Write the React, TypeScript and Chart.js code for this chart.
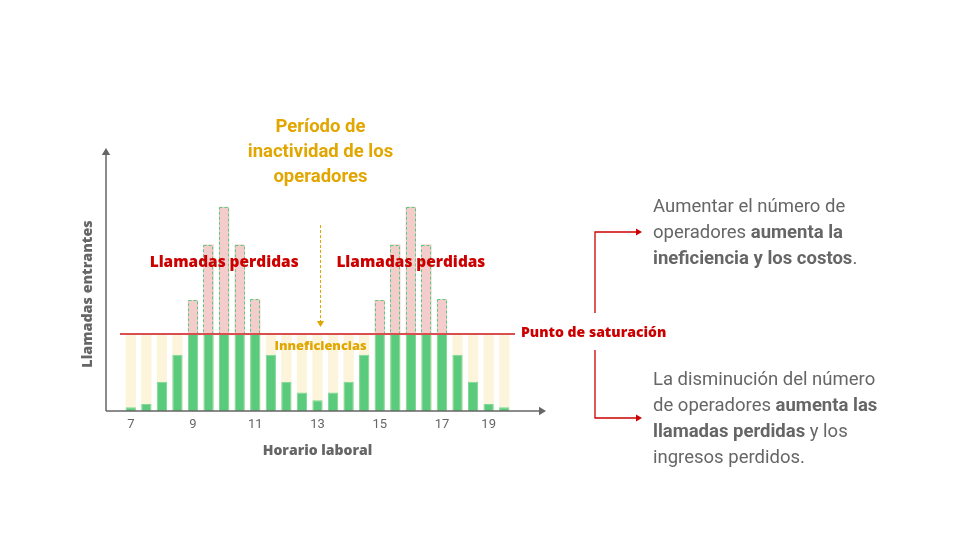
import { useEffect, useRef } from 'react';
import { Chart, registerables } from 'chart.js';
import type { Plugin } from 'chart.js';

Chart.register(...registerables);

// half-hour slots from 7:00 to 19:00, only some hours are labelled
const horas = ['7', '', '', '', '9', '', '', '', '11', '', '', '', '13', '', '', '', '15', '', '', '', '17', '', '', '19', ''];

// 100 = punto de saturación (capacidad de los operadores)
const capacidad = 100;
const capacidadSerie = horas.map(() => capacidad);
const atendidas = [5, 9, 38, 73, 100, 100, 100, 100, 100, 73, 38, 24, 14, 24, 38, 73, 100, 100, 100, 100, 100, 73, 38, 9, 5];
const perdidasTope = [null, null, null, null, 144, 216, 265, 216, 145, null, null, null, null, null, null, null, 144, 216, 265, 216, 145, null, null, null, null];

const GOLD  = '#e2a600';
const RED   = '#cc0000';
const GRAY  = '#666666';
const GREEN = '#5acb7c';
const FONT  = 'Roboto';
const HEAVY = '"Open Sans"';

function arrowHead(ctx: CanvasRenderingContext2D, x: number, y: number, dir: 'up' | 'right' | 'down', s: number) {
  ctx.beginPath();
  if (dir === 'up')    { ctx.moveTo(x, y); ctx.lineTo(x - s * 0.6, y + s); ctx.lineTo(x + s * 0.6, y + s); }
  if (dir === 'down')  { ctx.moveTo(x, y); ctx.lineTo(x - s * 0.6, y - s); ctx.lineTo(x + s * 0.6, y - s); }
  if (dir === 'right') { ctx.moveTo(x, y); ctx.lineTo(x - s, y - s * 0.6); ctx.lineTo(x - s, y + s * 0.6); }
  ctx.closePath();
  ctx.fill();
}

const anotaciones: Plugin<'bar'> = {
  id: 'anotaciones',
  afterDatasetsDraw(chart) {
    const { ctx, chartArea: a } = chart;
    const x = chart.scales.x;
    const y = chart.scales.y;
    ctx.save();

    // dashed outline around the lost-call segments
    const meta = chart.getDatasetMeta(1);
    ctx.setLineDash([3, 2]);
    ctx.strokeStyle = GREEN;
    ctx.lineWidth = 1;
    meta.data.forEach((el: any, i: number) => {
      if (perdidasTope[i] == null) return;
      const { x: cx, y: top, base, width } = el.getProps(['x', 'y', 'base', 'width'], true);
      ctx.strokeRect(Math.round(cx - width / 2) + 0.5, Math.round(top) + 0.5, Math.round(width) - 1, base - top);
    });
    ctx.setLineDash([]);

    // saturation line
    const ySat = y.getPixelForValue(capacidad);
    ctx.strokeStyle = '#d94f4f';
    ctx.lineWidth = 2;
    ctx.beginPath();
    ctx.moveTo(a.left - 3, ySat);
    ctx.lineTo(a.right + 3, ySat);
    ctx.stroke();

    // axes with arrows
    const ax = a.left - 17;
    ctx.strokeStyle = GRAY;
    ctx.fillStyle = GRAY;
    ctx.lineWidth = 1.5;
    ctx.beginPath();
    ctx.moveTo(ax, a.bottom);
    ctx.lineTo(ax, a.top + 4);
    ctx.moveTo(ax, a.bottom);
    ctx.lineTo(a.right + 28, a.bottom);
    ctx.stroke();
    arrowHead(ctx, ax, a.top - 1, 'up', 7);
    arrowHead(ctx, a.right + 34, a.bottom, 'right', 7);

    // texts
    ctx.textAlign = 'center';
    ctx.textBaseline = 'middle';
    ctx.fillStyle = RED;
    ctx.font = `800 15.4px ${HEAVY}`;
    ctx.fillText('Llamadas perdidas', x.getPixelForValue(6), y.getPixelForValue(193));
    ctx.fillText('Llamadas perdidas', x.getPixelForValue(18), y.getPixelForValue(193));

    ctx.textAlign = 'left';
    ctx.font = `800 14px ${HEAVY}`;
    ctx.fillText('Punto de saturación', a.right + 9, ySat - 1);

    const xMid = (x.getPixelForValue(12) + 3);
    ctx.textAlign = 'center';
    ctx.fillStyle = GOLD;
    ctx.font = `800 12.8px ${HEAVY}`;
    ctx.fillText('Inneficiencias', xMid, ySat + 12);

    ctx.font = `bold 18.5px ${FONT}`;
    ['Período de', 'inactividad de los', 'operadores'].forEach((t, i) => {
      ctx.fillText(t, xMid, 127 + i * 25);
    });

    // dashed gold arrow
    ctx.strokeStyle = GOLD;
    ctx.lineWidth = 1;
    ctx.setLineDash([3, 2]);
    ctx.beginPath();
    ctx.moveTo(xMid, 225);
    ctx.lineTo(xMid, ySat - 12);
    ctx.stroke();
    ctx.setLineDash([]);
    ctx.fillStyle = GOLD;
    arrowHead(ctx, xMid, ySat - 7, 'down', 6);

    // y-axis title
    ctx.save();
    ctx.translate(88, 294);
    ctx.rotate(-Math.PI / 2);
    ctx.fillStyle = GRAY;
    ctx.font = `800 14.3px ${HEAVY}`;
    ctx.fillText('Llamadas entrantes', 0, 0);
    ctx.restore();

    // right-hand brackets
    ctx.strokeStyle = RED;
    ctx.fillStyle = RED;
    ctx.lineWidth = 1.3;
    ctx.beginPath();
    ctx.moveTo(595, 313); ctx.lineTo(595, 232); ctx.lineTo(636, 232);
    ctx.moveTo(595, 350); ctx.lineTo(595, 418); ctx.lineTo(636, 418);
    ctx.stroke();
    arrowHead(ctx, 642, 232, 'right', 6);
    arrowHead(ctx, 642, 418, 'right', 6);

    ctx.restore();
  },
};

export default function App() {
  const canvasRef = useRef<HTMLCanvasElement>(null);

  useEffect(() => {
    if (!canvasRef.current) return;
    const chart = new Chart(canvasRef.current, {
      type: 'bar',
      data: {
        labels: horas,
        datasets: [
          {
            label: 'Atendidas',
            data: atendidas,
            backgroundColor: GREEN,
            borderColor: '#7fd896',
            borderWidth: 1,
            grouped: false,
            order: 1,
          },
          {
            label: 'Perdidas',
            data: perdidasTope.map(v => (v == null ? null : [capacidad, v])) as any,
            backgroundColor: '#f4cccc',
            borderWidth: 0,
            grouped: false,
            order: 2,
          },
          {
            label: 'Capacidad',
            data: capacidadSerie,
            backgroundColor: '#fdf4dc',
            borderWidth: 0,
            grouped: false,
            order: 3,
          },
        ],
      },
      options: {
        responsive: true,
        maintainAspectRatio: false,
        animation: false,
        datasets: { bar: { barPercentage: 0.66, categoryPercentage: 1 } },
        layout: { padding: { left: 123, right: 448, top: 149, bottom: 81 } },
        plugins: { legend: { display: false }, tooltip: { enabled: false } },
        scales: {
          x: {
            grid: { display: false, drawTicks: false },
            border: { display: false },
            ticks: {
              autoSkip: false,
              maxRotation: 0,
              padding: 6,
              color: GRAY,
              font: { family: FONT, size: 13 },
            },
            title: {
              display: true,
              text: 'Horario laboral',
              color: GRAY,
              font: { family: 'Open Sans', size: 14, weight: 800 as any },
              padding: 0,
            },
            afterFit: (s: any) => { s.height = 48; },
          },
          y: {
            display: false,
            min: 0,
            max: 340,
          },
        },
      },
      plugins: [anotaciones],
    });
    return () => chart.destroy();
  }, []);

  const para: React.CSSProperties = {
    position: 'absolute', left: 653, width: 300,
    fontFamily: FONT, fontSize: 18.5, lineHeight: '26px', color: GRAY,
  };

  return (
    <div style={{ position: 'fixed', left: 0, top: 0, width: 960, height: 540, background: '#fff' }}>
      <canvas ref={canvasRef} />
      <div style={{ ...para, top: 193 }}>
        Aumentar el número de<br />
        operadores <b>aumenta la</b><br />
        <b>ineficiencia y los costos</b>.
      </div>
      <div style={{ ...para, top: 366 }}>
        La disminución del número<br />
        de operadores <b>aumenta las</b><br />
        <b>llamadas perdidas</b> y los<br />
        ingresos perdidos.
      </div>
    </div>
  );
}
